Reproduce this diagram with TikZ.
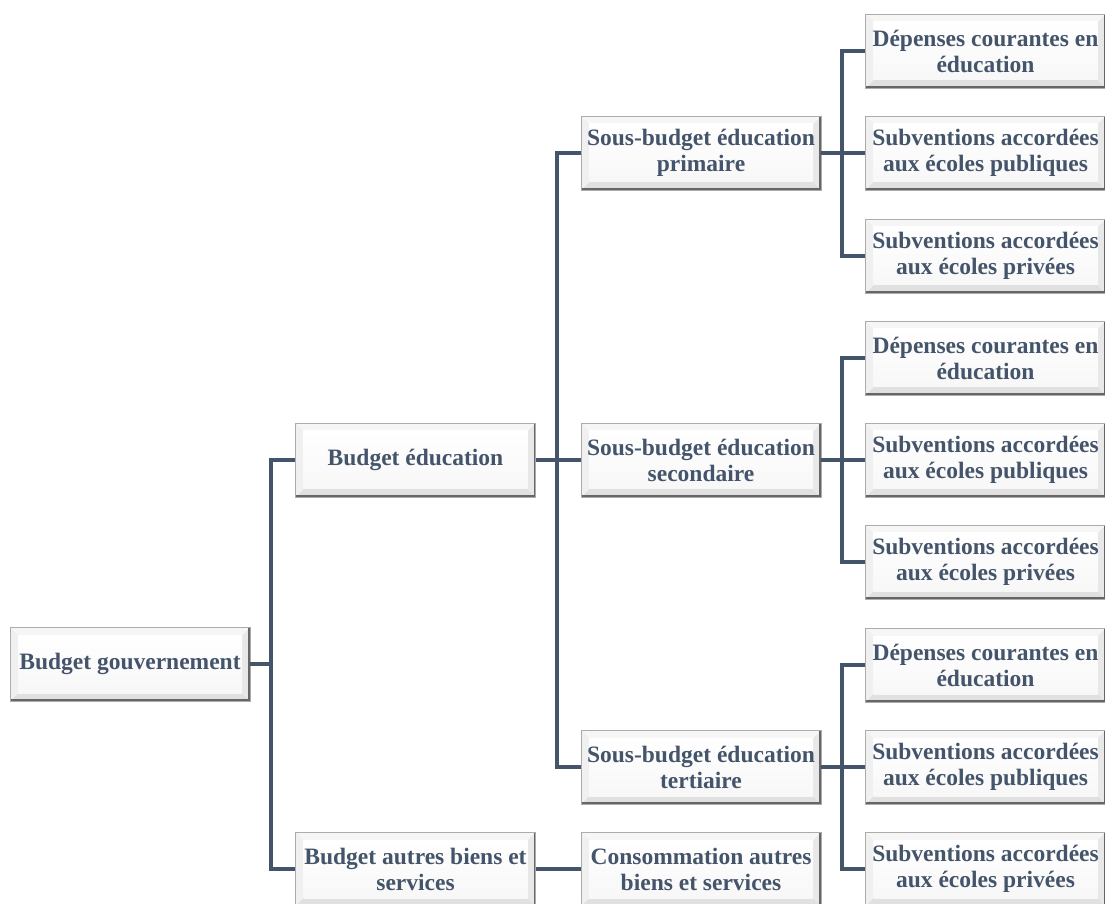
\documentclass[tikz,border=0pt]{standalone}
\usepackage{fontspec}
\setmainfont{Liberation Serif}
\usetikzlibrary{calc}
\definecolor{txt}{HTML}{44546A}
\definecolor{lnc}{HTML}{44546A}
\tikzset{
  bx/.style={draw=gray!65, line width=0.8pt, minimum width=240pt, minimum height=74pt,
    inner sep=0pt, align=center, text=txt, font=\bfseries\fontsize{23.5}{26}\selectfont,
    fill=white,
    path picture={
      \path (path picture bounding box.south west) coordinate (pa)
            (path picture bounding box.north east) coordinate (pb);
      \fill[gray!24] (pa) -- ($(pa)+(8pt,8pt)$) -- ($(pb|-pa)+(-8pt,8pt)$) -- (pb|-pa) -- cycle;
      \fill[gray!18] (pb|-pa) -- ($(pb|-pa)+(-8pt,8pt)$) -- ($(pb)+(-8pt,-8pt)$) -- (pb) -- cycle;
      \fill[gray!7] (pb) -- ($(pb)+(-8pt,-8pt)$) -- ($(pa|-pb)+(8pt,-8pt)$) -- (pa|-pb) -- cycle;
      \fill[gray!12] (pa|-pb) -- ($(pa|-pb)+(8pt,-8pt)$) -- ($(pa)+(8pt,8pt)$) -- (pa) -- cycle;
      \shade[top color=white, bottom color=gray!6] ($(pa)+(8pt,8pt)$) rectangle ($(pb)+(-8pt,-8pt)$);
      \draw[gray!80!black, line width=1.8pt] ($(pa)+(0,0.7pt)$) -- ($(pb|-pa)+(-0.7pt,0.7pt)$) -- ($(pb)+(-0.7pt,0)$);
    }},
  ln/.style={draw=lnc, line width=4pt}
}
\begin{document}
\begin{tikzpicture}[x=1pt,y=1pt]
\useasboundingbox (0,0) rectangle (1105,903);
\node[bx] (gov) at (130,239) {Budget gouvernement};
\node[bx] (edu) at (415.5,443) {Budget éducation};
\node[bx] (aut) at (415.5,34) {Budget autres biens et\\services};
\node[bx] (prim) at (701,750) {Sous-budget éducation\\primaire};
\node[bx] (sec) at (701,443) {Sous-budget éducation\\secondaire};
\node[bx] (ter) at (701,136) {Sous-budget éducation\\tertiaire};
\node[bx] (cons) at (701,34) {Consommation autres\\biens et services};
\node[bx] (p1) at (985.5,852) {Dépenses courantes en\\éducation};
\node[bx] (p2) at (985.5,750) {Subventions accordées\\aux écoles publiques};
\node[bx] (p3) at (985.5,647) {Subventions accordées\\aux écoles privées};
\node[bx] (s1) at (985.5,545) {Dépenses courantes en\\éducation};
\node[bx] (s2) at (985.5,443) {Subventions accordées\\aux écoles publiques};
\node[bx] (s3) at (985.5,341) {Subventions accordées\\aux écoles privées};
\node[bx] (t1) at (985.5,238) {Dépenses courantes en\\éducation};
\node[bx] (t2) at (985.5,136) {Subventions accordées\\aux écoles publiques};
\node[bx] (t3) at (985.5,34) {Subventions accordées\\aux écoles privées};
\foreach \a/\b in {gov/edu,gov/aut,edu/prim,edu/sec,edu/ter,prim/p1,prim/p2,prim/p3,sec/s1,sec/s2,sec/s3,ter/t1,ter/t2,ter/t3}
  \draw[ln] (\a.east) -- ++(21,0) |- (\b.west);
\draw[ln] (aut.east) -- (cons.west);
\end{tikzpicture}
\end{document}
